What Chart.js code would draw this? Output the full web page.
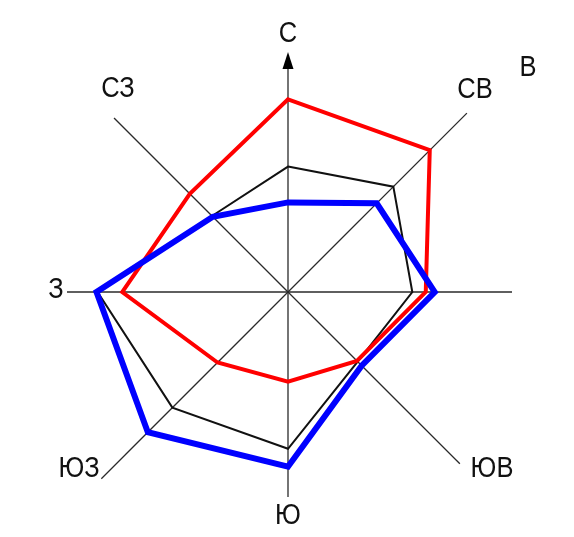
<!DOCTYPE html>
<html lang="ru">
<head>
<meta charset="utf-8">
<title>Роза ветров</title>
<script src="https://cdn.jsdelivr.net/npm/chart.js@4.4.1/dist/chart.umd.min.js"></script>
<style>
  html, body { margin: 0; padding: 0; background: #fff; }
  canvas { display: block; }
</style>
</head>
<body>
<canvas id="roseChart" width="574" height="537"></canvas>
<script>
// Румбы (по часовой стрелке от севера)
const directions = ['С', 'СВ', 'В', 'ЮВ', 'Ю', 'ЮЗ', 'З', 'СЗ'];

// Повторяемость ветра, %
const redValues = [17.2, 17.9, 12.3, 8.7, 8.0, 8.9, 14.8, 12.4];
const blackValues = [11.2, 13.3, 11.1, 8.8, 14.0, 14.6, 17.0, 9.6];
const blueValues = [8.0, 11.2, 13.1, 9.3, 15.6, 17.7, 17.1, 9.5];

const scaleMax = 20;

// Длина лучей в пикселях (рисунок неровный)
const axisLength = [226, 253, 224, 243, 205, 264, 221, 246];

// Положение подписей относительно центра
const labelOffset = {
    'С': [0, -259],
    'СВ': [187, -203],
    'В': [240, -225],
    'ЮВ': [204, 176],
    'Ю': [0, 223],
    'ЮЗ': [-209, 176],
    'З': [-232, -3],
    'СЗ': [-170, -204]
};

// Лучи, стрелка на север и подписи
const rosePlugin = {
    id: 'rose',
    beforeDatasetsDraw(chart) {
        const s = chart.scales.r;
        const ctx = chart.ctx;
        ctx.save();
        ctx.strokeStyle = '#2a2a2a';
        ctx.lineWidth = 1.3;
        directions.forEach((d, i) => {
            const a = s.getIndexAngle(i) - Math.PI / 2;
            ctx.beginPath();
            ctx.moveTo(s.xCenter, s.yCenter);
            ctx.lineTo(s.xCenter + Math.cos(a) * axisLength[i], s.yCenter + Math.sin(a) * axisLength[i]);
            ctx.stroke();
        });
        // стрелка
        const tipY = s.yCenter - axisLength[0] - 14;
        ctx.fillStyle = '#000';
        ctx.beginPath();
        ctx.moveTo(s.xCenter, tipY);
        ctx.lineTo(s.xCenter - 5.5, s.yCenter - axisLength[0] + 3);
        ctx.lineTo(s.xCenter + 5.5, s.yCenter - axisLength[0] + 3);
        ctx.closePath();
        ctx.fill();
        ctx.restore();
    },
    afterDraw(chart) {
        const s = chart.scales.r;
        const ctx = chart.ctx;
        ctx.fillStyle = '#111';
        ctx.font = '29px "Liberation Sans", Arial, sans-serif';
        ctx.textAlign = 'center';
        ctx.textBaseline = 'middle';
        directions.forEach(d => {
            const o = labelOffset[d];
            // шрифт на оригинале немного сжат по ширине
            ctx.save();
            ctx.translate(s.xCenter + o[0], s.yCenter + o[1] + 1);
            ctx.scale(0.88, 1);
            ctx.fillText(d, 0, 0);
            ctx.restore();
        });
    }
};

const ctx = document.getElementById('roseChart').getContext('2d');

const roseChart = new Chart(ctx, {
    type: 'radar',
    data: {
        labels: directions,
        datasets: [
            {
                label: 'синий',
                data: blueValues,
                borderColor: '#0000ff',
                borderWidth: 6,
                fill: false
            },
            {
                label: 'красный',
                data: redValues,
                borderColor: '#ff0000',
                borderWidth: 4,
                fill: false
            },
            {
                label: 'чёрный',
                data: blackValues,
                borderColor: '#111',
                borderWidth: 2,
                fill: false
            }
        ]
    },
    options: {
        responsive: false,
        animation: false,
        layout: {
            padding: { left: 60, right: 58, top: 68, bottom: 21 }
        },
        elements: {
            point: { radius: 0, hoverRadius: 0 },
            line: { tension: 0, borderJoinStyle: 'miter' }
        },
        plugins: {
            legend: { display: false },
            tooltip: { enabled: false }
        },
        scales: {
            r: {
                min: 0,
                max: scaleMax,
                ticks: { display: false },
                grid: { display: false },
                angleLines: { display: false },
                pointLabels: { display: false }
            }
        }
    },
    plugins: [rosePlugin]
});
</script>
</body>
</html>
